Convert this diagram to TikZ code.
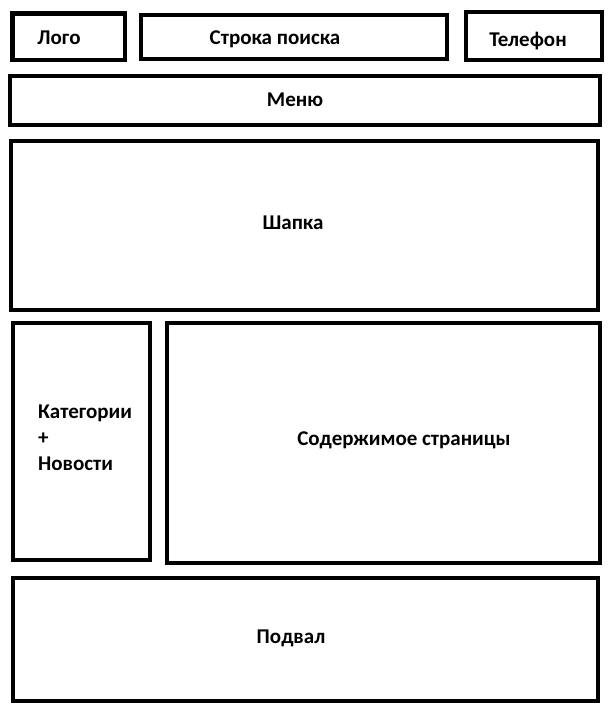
\documentclass[tikz,border=0pt]{standalone}
\usepackage{fontspec}
\setmainfont{Carlito}
\usepackage{tikz}
\usetikzlibrary{shapes}

\begin{document}
\begin{tikzpicture}[x=1pt,y=-1pt]
      \tikzstyle{block}=[draw=black, line width=4.5pt, fill=white, rectangle, inner sep=0pt]
      \tikzstyle{block_text}=[draw=none, fill=none, inner sep=0pt, anchor=base, font=\fontsize{21}{26}\selectfont\bfseries]

      \useasboundingbox (0,0) rectangle (616,716);

      % top row
      \node [block, minimum width=112.5pt, minimum height=46.5pt] (logo) at (68.5,36.5) {};
      \node [block_text] (logo_text) at (59,44) {Лого};

      \node [block, minimum width=306pt, minimum height=44pt] (search) at (294,37) {};
      \node [block_text] (search_text) at (275,44) {Строка поиска};

      \node [block, minimum width=136pt, minimum height=48pt] (phone) at (534,36) {};
      \node [block_text] (phone_text) at (528,46) {Телефон};

      % menu + header
      \node [block, minimum width=590pt, minimum height=49pt] (menu) at (305,100.5) {};
      \node [block_text] (menu_text) at (295,106.5) {Меню};

      \node [block, minimum width=587pt, minimum height=169pt] (header) at (304.5,225.5) {};
      \node [block_text] (header_text) at (293,229.5) {Шапка};

      % middle
      \node [block, minimum width=137pt, minimum height=237pt] (sidebar) at (81.5,441.5) {};
      \node [block_text, align=left, anchor=west] (sidebar_text) at (38,438) {Категории\\+\\Новости};

      \node [block, minimum width=433pt, minimum height=240pt] (content) at (383.5,443) {};
      \node [block_text] (content_text) at (404,445) {Содержимое страницы};

      % footer
      \node [block, minimum width=585pt, minimum height=123pt] (footer) at (305.5,639.5) {};
      \node [block_text] (footer_text) at (291,643.5) {Подвал};
\end{tikzpicture}
\end{document}
